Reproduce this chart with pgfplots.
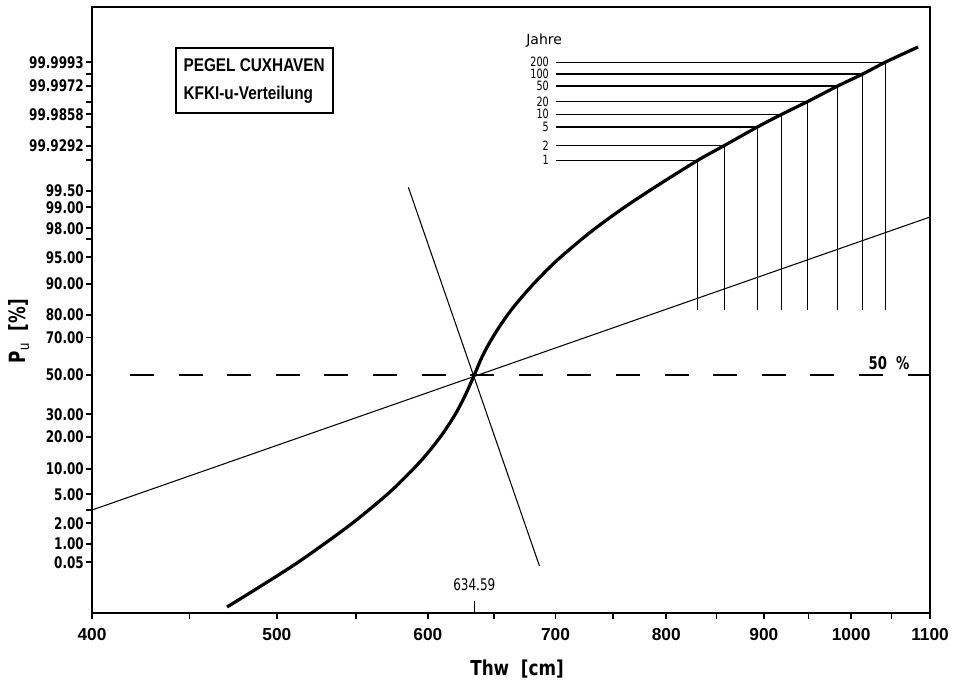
\documentclass[border=0pt]{standalone}
\usepackage{graphicx}
\usepackage{fontspec}
\usepackage{pgfplots}
\pgfplotsset{compat=1.18}
\setmainfont{Liberation Sans}
\newfontfamily\cond[BoldFont={DejaVu Sans Condensed Bold}]{DejaVu Sans Condensed}
\newfontfamily\dvs{DejaVu Sans}
% drawing lettering on the original sheet is taller than wide
\newcommand\tall[1]{\scalebox{1}[1.2]{#1}}

\begin{document}
\begin{tikzpicture}[x=1pt,y=1pt]
\useasboundingbox (-69,-54) rectangle (651.75,459.75);
\begin{axis}[
  at={(0,0)}, anchor=south west,
  scale only axis, width=628.5pt, height=454.5pt,
  xmode=log, xmin=400, xmax=1100,
  ymin=-4.76, ymax=7.36,
  clip=false,
  axis line style={line width=1.6pt},
  tick pos=left, tick align=outside,
  major tick length=4.5pt,
  every tick/.style={line width=1.3pt, black},
  minor xtick={},
  xtick={400,450,500,550,600,650,700,750,800,850,900,950,1000,1050,1100},
  xticklabels={400,,500,,600,,700,,800,,900,,1000,,1100},
  xticklabel style={font=\bfseries\fontsize{13}{13}\selectfont, yshift=-3.5pt},
  % reduced variate u of the KFKI-u distribution, labelled with P_u in percent
  ytick={-3.746,-3.38,-2.966,-2.7,-2.386,-1.88,-1.234,-0.786,0,0.75,1.2,1.82,2.354,2.72,2.934,3.354,3.686,4.294,4.586,4.96,5.214,5.466,5.78,6.02,6.254},
  yticklabels={\tall{0.05},\tall{1.00},\tall{2.00},{},\tall{5.00},\tall{10.00},\tall{20.00},\tall{30.00},\tall{50.00},\tall{70.00},\tall{80.00},\tall{90.00},\tall{95.00},{},\tall{98.00},\tall{99.00},\tall{99.50},{},\tall{99.9292},{},\tall{99.9858},{},\tall{99.9972},{},\tall{99.9993}},
  yticklabel style={font=\cond\bfseries\fontsize{10}{10}\selectfont, inner sep=1.5pt},
]
% 50 % line
\addplot[line width=0.9pt, dash pattern=on 18pt off 18.45pt] coordinates {(418.8,0) (1100,0)};
% the two straight reference lines through the median
\addplot[line width=0.8pt] coordinates {(400,-2.7) (1100,3.16)};
\addplot[line width=0.8pt] coordinates {(586.0,3.754) (686.5,-3.82)};
% distribution curve
\addplot[line width=2.4pt, smooth, tension=0.5] coordinates {
  (470.8,-4.64) (489.9,-4.232) (514.1,-3.72) (546.1,-3.0) (573.1,-2.34)
  (594.2,-1.74) (608.8,-1.25) (620.0,-0.794) (627.5,-0.414) (634.59,0)
  (640.5,0.36) (646.7,0.66) (654.6,0.984) (664.9,1.346) (681.2,1.812)
  (701.2,2.292) (729.8,2.852) (759.4,3.334) (791.2,3.782)
  (831.1,4.294) (857.8,4.586) (893.0,4.96) (919.7,5.214)
  (948.6,5.466) (984.0,5.78) (1014.2,6.02) (1041.9,6.254) (1084.2,6.56)};
% return periods
\addplot[line width=0.8pt] coordinates {(700.4,4.294) (831.1,4.294) (831.1,1.3)};
\addplot[line width=0.8pt] coordinates {(700.4,4.586) (857.8,4.586) (857.8,1.3)};
\addplot[line width=0.8pt] coordinates {(700.4,4.96) (893.0,4.96) (893.0,1.3)};
\addplot[line width=0.8pt] coordinates {(700.4,5.214) (919.7,5.214) (919.7,1.3)};
\addplot[line width=0.8pt] coordinates {(700.4,5.466) (948.6,5.466) (948.6,1.3)};
\addplot[line width=0.8pt] coordinates {(700.4,5.78) (984.0,5.78) (984.0,1.3)};
\addplot[line width=0.8pt] coordinates {(700.4,6.02) (1014.2,6.02) (1014.2,1.3)};
\addplot[line width=0.8pt] coordinates {(700.4,6.254) (1041.9,6.254) (1041.9,1.3)};
% median mark on the x axis
\addplot[line width=0.8pt] coordinates {(634.59,-4.76) (634.59,-4.52)};

\node[anchor=west, inner sep=0pt, font=\dvs\fontsize{10.5}{10.5}\selectfont] at (axis cs:675.5,6.68) {Jahre};
\begin{scope}[font=\cond\fontsize{8}{8}\selectfont, inner sep=0pt]
\node[anchor=east] at (axis cs:694.5,6.254) {\tall{200}};
\node[anchor=east] at (axis cs:694.5,6.02) {\tall{100}};
\node[anchor=east] at (axis cs:694.5,5.78) {\tall{50}};
\node[anchor=east] at (axis cs:694.5,5.466) {\tall{20}};
\node[anchor=east] at (axis cs:694.5,5.214) {\tall{10}};
\node[anchor=east] at (axis cs:694.5,4.96) {\tall{5}};
\node[anchor=east] at (axis cs:694.5,4.586) {\tall{2}};
\node[anchor=east] at (axis cs:694.5,4.294) {\tall{1}};
\end{scope}
\node[font=\cond\fontsize{10}{10}\selectfont] at (axis cs:634.59,-4.2) {\tall{634.59}};
\node[font=\cond\bfseries\fontsize{11}{11}\selectfont] at (axis cs:1046.9,0.24) {\tall{50\ \ \%}};
\end{axis}

% title box
\draw[line width=1.2pt] (63,375) rectangle (180.75,423.75);
\node[anchor=west, font=\bfseries\fontsize{11.5}{11.5}\selectfont, inner sep=0pt] at (68.5,410.5) {\tall{PEGEL CUXHAVEN}};
\node[anchor=west, font=\bfseries\fontsize{11.5}{11.5}\selectfont, inner sep=0pt] at (68.5,388.5) {\tall{KFKI-u-Verteilung}};

% axis titles
\node[font=\cond\bfseries\fontsize{14}{14}\selectfont] at (318.75,-42) {\scalebox{1}[1.1]{Thw\ \ [cm]}};
\node[rotate=90, font=\cond\bfseries\fontsize{14}{14}\selectfont] at (-54.75,211.5) {\tall{P$_{\mathrm{\cond u}}$\ \ [\%]}};
\end{tikzpicture}
\end{document}
